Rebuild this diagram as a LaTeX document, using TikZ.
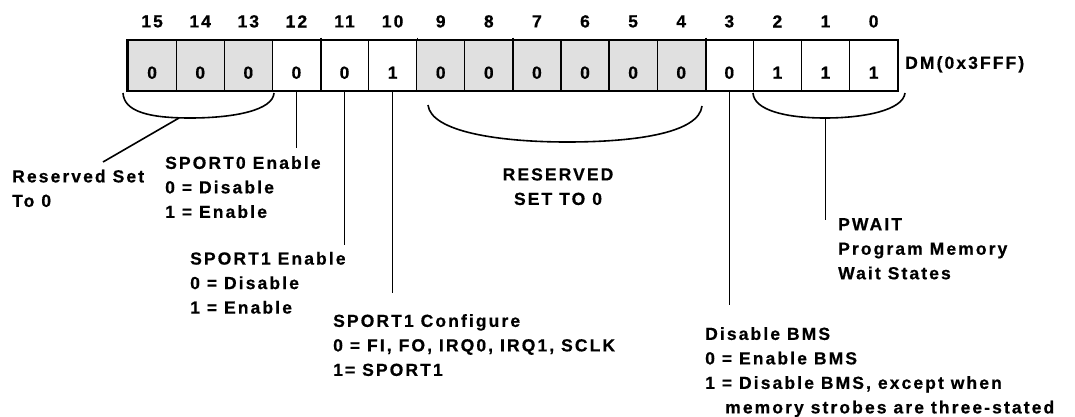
\documentclass[tikz,border=0pt]{standalone}
\usepackage{fontspec}
\newfontfamily\regfont{Liberation Sans Bold}[LetterSpace=12, FakeBold=0.6]
\usepackage{tikz}
\usetikzlibrary{calc, positioning}
\newcommand{\lblfont}{\regfont\fontsize{17.5}{24.5}\selectfont}
\tikzstyle{cell} = [rectangle, draw=black, line width=1.2pt, minimum width=48.1pt,
	minimum height=50.4pt, inner sep=0pt, text height=26.5pt, text depth=0pt, font=\lblfont]
\tikzstyle{resv} = [fill=black!12]
\tikzstyle{num} = [inner sep=0pt, font=\lblfont]
\tikzstyle{desc} = [anchor=north west, inner sep=0pt, align=left, font=\lblfont]
\tikzstyle{lead} = [line width=1.6pt]

\begin{document}
\begin{tikzpicture}[x=1pt, y=-1pt]
	% set up canvas
	\useasboundingbox (0,0) rectangle (1075,417);

	% set up register cells
	\node (b15) [cell, resv] at (152.1,65.5) {0};
	\node (b14) [cell, resv] at (200.2,65.5) {0};
	\node (b13) [cell, resv] at (248.3,65.5) {0};
	\node (b12) [cell] at (296.4,65.5) {0};
	\node (b11) [cell] at (344.5,65.5) {0};
	\node (b10) [cell] at (392.6,65.5) {1};
	\node (b9) [cell, resv] at (440.7,65.5) {0};
	\node (b8) [cell, resv] at (488.8,65.5) {0};
	\node (b7) [cell, resv] at (536.9,65.5) {0};
	\node (b6) [cell, resv] at (585.0,65.5) {0};
	\node (b5) [cell, resv] at (633.1,65.5) {0};
	\node (b4) [cell, resv] at (681.2,65.5) {0};
	\node (b3) [cell] at (729.3,65.5) {0};
	\node (b2) [cell] at (777.4,65.5) {1};
	\node (b1) [cell] at (825.5,65.5) {1};
	\node (b0) [cell] at (873.6,65.5) {1};

	% outline and nibble separators
	\draw[line width=2pt] (b15.north west) rectangle (b0.south east);
	\draw[line width=2pt] ([yshift=2pt]b12.north east) -- (b12.south east);
	\draw[line width=2pt] ([yshift=2pt]b8.north east) -- (b8.south east);
	\draw[line width=2pt] ([yshift=2pt]b4.north east) -- (b4.south east);
	\draw[line width=1.2pt] ([yshift=2pt]b10.north east) -- (b10.north east);

	% set up bit numbers
	\node (n15) [num] at (152.1,21.4) {15};
	\node (n14) [num] at (200.2,21.4) {14};
	\node (n13) [num] at (248.3,21.4) {13};
	\node (n12) [num] at (296.4,21.4) {12};
	\node (n11) [num] at (344.5,21.4) {11};
	\node (n10) [num] at (392.6,21.4) {10};
	\node (n9) [num] at (440.7,21.4) {9};
	\node (n8) [num] at (488.8,21.4) {8};
	\node (n7) [num] at (536.9,21.4) {7};
	\node (n6) [num] at (585.0,21.4) {6};
	\node (n5) [num] at (633.1,21.4) {5};
	\node (n4) [num] at (681.2,21.4) {4};
	\node (n3) [num] at (729.3,21.4) {3};
	\node (n2) [num] at (777.4,21.4) {2};
	\node (n1) [num] at (825.5,21.4) {1};
	\node (n0) [num] at (873.6,21.4) {0};

	\node (addr) [num, anchor=west] at (905,64.3) {DM(0x3FFF)};

	% set up descriptions
	\node (resvlow) [desc] at (12,169.5) {Reserved Set\\To 0};
	\node (sp0) [desc] at (165,156) {SPORT0 Enable\\0 = Disable\\1 = Enable};
	\node (sp1) [desc] at (190,251.7) {SPORT1 Enable\\0 = Disable\\1 = Enable};
	\node (sp1cfg) [desc] at (333,314) {SPORT1 Configure\\0 = FI, FO, IRQ0, IRQ1, SCLK\\1= SPORT1};
	\node (resvmid) [desc, anchor=north, align=center] at (558,168) {RESERVED\\ SET TO 0};
	\node (pwait) [desc] at (838,218) {PWAIT\\Program Memory\\Wait States};
	\node (bms) [desc] at (705,327) {Disable BMS\\0 = Enable BMS\\1 = Disable BMS, except when\\\hspace*{20pt}memory strobes are three-stated};

	% set up braces
	\coordinate (r1tip) at (179,118);
	\coordinate (r1end) at (103,162);
	\draw[lead] (123,93) .. controls (124,112) and (150,118) .. (190,118)
		.. controls (235,118) and (273,110) .. (274,93);
	\draw[lead] (r1tip) -- (r1end);

	\draw[lead] (428,105) .. controls (431,132) and (500,142) .. (567,142)
		.. controls (640,142) and (699,132) .. (702,106);

	\coordinate (pwtip) at (825.5,118);
	\coordinate (pwend) at (825.5,220);
	\draw[lead] (753,93) .. controls (754,110) and (785,118) .. (825,118)
		.. controls (865,118) and (903,110) .. (905,93);
	\draw[lead] (pwtip) -- (pwend);

	% set up leader lines
	\coordinate (sp0end) at (296.4,148);
	\coordinate (sp1end) at (344.5,245);
	\coordinate (cfgend) at (392.6,293);
	\coordinate (bmsend) at (729.3,305);
	\draw[lead] (b12.south) -- (sp0end);
	\draw[lead] (b11.south) -- (sp1end);
	\draw[lead] (b10.south) -- (cfgend);
	\draw[lead] (b3.south) -- (bmsend);
\end{tikzpicture}
\end{document}
